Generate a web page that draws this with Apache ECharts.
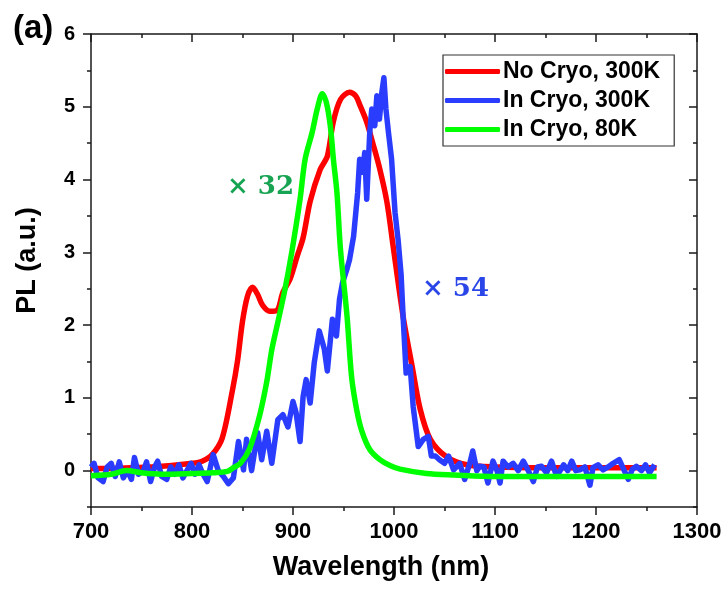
<!DOCTYPE html>
<html><head><meta charset="utf-8">
<script src="https://cdn.jsdelivr.net/npm/echarts@6/dist/echarts.min.js"></script>
<style>html,body{margin:0;padding:0;background:#fff}#c{width:728px;height:592px}</style>
</head><body><div id="c"></div>
<script>
// ---- data ----
const seriesNames = ['No Cryo, 300K', 'In Cryo, 300K', 'In Cryo, 80K'];
const xTicks = [700, 800, 900, 1000, 1100, 1200, 1300];
const yTicks = [0, 1, 2, 3, 4, 5, 6];
const yMinorTicks = [-0.5, 0.5, 1.5, 2.5, 3.5, 4.5, 5.5];

const redWl = [700,720,740,760,780,800,810,820,830,840,845,850,855,860,865,870,877,884,890,897,904,910,917,927,934,940,947,956,962,966,973,979,986,993,999,1009,1018,1026,1036,1052,1072,1100,1150,1200,1260];
const redPL = [0.03,0.03,0.04,0.05,0.07,0.1,0.13,0.22,0.45,1.1,1.5,2.05,2.4,2.52,2.42,2.27,2.19,2.2,2.45,2.63,2.94,3.2,3.7,4.14,4.32,4.8,5.1,5.2,5.15,5.03,4.79,4.5,4.14,3.69,3.1,2.12,1.43,0.84,0.43,0.19,0.08,0.05,0.04,0.04,0.04];

const blueWl = [700,703,707,712,716,720,724,728,732,736,740,743,747,752,755,759,763,766,770,775,779,783,787,791,795,799,803,807,811,815,821,826,831,836,841,846,851,854,859,865,869,874,879,885,890,895,900,903,907,910,913,917,921,926,931,934,939,943,946,949,953,956,960,964,966,969,971,973,976,978,981,983,985.6,988,990,992,994.5,997.6,1001,1004,1007,1009,1012,1016,1019,1024,1029,1034,1037,1041,1045,1050,1054,1059,1065,1070,1075,1078,1082,1085,1089,1093,1098,1102,1105,1108,1113,1118,1123,1128,1133,1138,1142,1146,1151,1156,1161,1168,1172,1176,1180,1184,1189,1194,1197,1202,1207,1212,1217,1223,1228,1232,1236,1240,1245,1249,1253,1258];
const bluePL = [0.05,0.1,-0.1,-0.15,0.05,0.1,-0.08,0.12,-0.1,0.0,-0.12,0.18,-0.05,0.0,0.12,-0.15,0.05,0.13,-0.08,-0.12,0.05,-0.05,0.08,-0.1,0.0,0.1,-0.05,0.08,-0.05,-0.15,0.22,0.0,-0.08,-0.18,-0.1,0.4,0.01,0.43,0.0,0.52,0.15,0.54,0.1,0.7,0.77,0.6,0.95,0.8,0.4,1.02,1.25,0.93,1.48,1.92,1.67,1.37,2.08,1.85,2.35,2.58,2.75,2.9,3.22,3.82,4.28,4.1,4.37,3.73,4.65,4.97,4.74,5.15,4.83,5.2,5.4,4.97,4.65,4.28,3.55,3.18,2.7,2.12,1.34,1.43,0.88,0.33,0.43,0.47,0.2,0.2,0.15,0.1,0.2,0.01,0.1,-0.12,0.1,0.27,0.0,0.06,0.05,-0.17,0.13,0.0,-0.17,0.13,0.05,0.1,0.0,0.13,0.0,-0.15,0.05,0.06,-0.03,0.13,-0.08,0.08,0.0,0.13,0.0,0.01,0.05,-0.2,0.04,0.08,0.01,0.05,0.1,0.15,0.0,-0.12,0.02,0.06,0.0,0.08,-0.03,0.08];

const greenWl = [700,720,735,750,770,800,820,835,841,848,857,867,874,879,885,892,899,907,912,919,924,929,933,937,940,943.5,947,953.5,958,963,968,976,986,996,1006,1032,1060,1100,1150,1200,1260];
const greenPL = [-0.07,-0.05,0.0,-0.03,-0.05,-0.04,-0.03,-0.01,0.04,0.1,0.3,0.76,1.22,1.66,2.04,2.49,3.02,3.73,4.28,4.65,4.97,5.18,5.06,4.73,4.28,3.82,3.04,2.12,1.29,0.84,0.55,0.29,0.15,0.07,0.02,-0.04,-0.06,-0.08,-0.08,-0.08,-0.08];

const zip = (a, b) => a.map((x, i) => [x, b[i]]);
const colors = ['#ff0000', '#2a3dff', '#00ff00'];

const chart = echarts.init(document.getElementById('c'), null, {renderer: 'canvas'});
const axisColor = '#1a1a1a';
const font = 'Liberation Sans, Arial, sans-serif';
const serif = '"DejaVu Serif", "Liberation Serif", serif';

const baseY = {
  type: 'value', min: -0.5, max: 6, splitLine: {show: false},
  axisLine: {show: false}
};

chart.setOption({
  animation: false,
  grid: {left: 91, right: 31, top: 34, bottom: 85, containLabel: false},
  legend: {
    orient: 'vertical', left: 443, top: 55,
    itemWidth: 55, itemHeight: 5, itemGap: 6,
    icon: 'roundRect',
    borderColor: '#333', borderWidth: 1.2,
    padding: [5, 14, 5, 2],
    textStyle: {fontFamily: font, fontWeight: 'bold', fontSize: 23, color: '#000', padding: [0, 0, 0, -2]},
    data: seriesNames
  },
  xAxis: [
    {
      type: 'value', min: 700, max: 1300, interval: 100, position: 'bottom',
      name: 'Wavelength (nm)', nameLocation: 'middle', nameGap: 47,
      nameTextStyle: {fontFamily: font, fontWeight: 'bold', fontSize: 27, color: '#000', padding: [0, 26, 0, 0]},
      axisLine: {show: true, onZero: false, lineStyle: {color: axisColor, width: 1.5}},
      axisTick: {show: true, inside: false, length: 8, lineStyle: {color: axisColor, width: 1.5}},
      minorTick: {show: true, splitNumber: 2, length: 4, lineStyle: {color: axisColor, width: 1.5}},
      axisLabel: {fontFamily: font, fontWeight: 'bold', fontSize: 22, color: '#000', margin: 14,
                  formatter: v => String(v)},
      splitLine: {show: false}, minorSplitLine: {show: false}
    },
    {
      type: 'value', min: 700, max: 1300, interval: 100, position: 'top',
      axisLine: {show: true, onZero: false, lineStyle: {color: axisColor, width: 1.5}},
      axisTick: {show: true, inside: true, length: 8, lineStyle: {color: axisColor, width: 1.5}},
      minorTick: {show: true, splitNumber: 2, length: 4, lineStyle: {color: axisColor, width: 1.5}},
      axisLabel: {show: false}, splitLine: {show: false}
    }
  ],
  yAxis: [
    Object.assign({}, baseY, {
      position: 'left',
      name: 'PL (a.u.)', nameLocation: 'middle', nameGap: 50, nameRotate: 90,
      nameTextStyle: {fontFamily: font, fontWeight: 'bold', fontSize: 27, color: '#000', padding: [0, 0, 0, 20]},
      axisLine: {show: true, onZero: false, lineStyle: {color: axisColor, width: 1.5}},
      axisTick: {show: true, inside: false, length: 8, customValues: yTicks, lineStyle: {color: axisColor, width: 1.5}},
      axisLabel: {show: true, customValues: yTicks, fontFamily: font, fontWeight: 'bold', fontSize: 20, color: '#000', margin: 16}
    }),
    Object.assign({}, baseY, {
      position: 'left',
      axisTick: {show: true, inside: false, length: 4, customValues: yMinorTicks, lineStyle: {color: axisColor, width: 1.5}},
      axisLabel: {show: false}
    }),
    Object.assign({}, baseY, {
      position: 'right',
      axisLine: {show: true, onZero: false, lineStyle: {color: axisColor, width: 1.5}},
      axisTick: {show: true, inside: true, length: 8, customValues: yTicks, lineStyle: {color: axisColor, width: 1.5}},
      axisLabel: {show: false}
    }),
    Object.assign({}, baseY, {
      position: 'right',
      axisTick: {show: true, inside: true, length: 4, customValues: yMinorTicks, lineStyle: {color: axisColor, width: 1.5}},
      axisLabel: {show: false}
    })
  ],
  series: [
    {name: seriesNames[0], type: 'line', data: zip(redWl, redPL), smooth: 0.3, showSymbol: false,
     lineStyle: {color: colors[0], width: 5.5}, itemStyle: {color: colors[0]}, z: 2},
    {name: seriesNames[1], type: 'line', data: zip(blueWl, bluePL), smooth: false, showSymbol: false,
     lineStyle: {color: colors[1], width: 5.5, join: 'round'}, itemStyle: {color: colors[1]}, z: 3},
    {name: seriesNames[2], type: 'line', data: zip(greenWl, greenPL), smooth: 0.3, showSymbol: false,
     lineStyle: {color: colors[2], width: 5.5}, itemStyle: {color: colors[2]}, z: 4}
  ],
  graphic: [
    {type: 'text', left: 13, top: 12, style: {text: '(a)', font: 'bold 33px ' + font, fill: '#000'}},
    {type: 'text', left: 227, top: 174, style: {text: '× 32', font: 'bold 26px ' + serif, fill: '#16a352'}},
    {type: 'text', left: 422, top: 276, style: {text: '× 54', font: 'bold 26px ' + serif, fill: '#2a45e8'}}
  ]
});
</script>
</body></html>
